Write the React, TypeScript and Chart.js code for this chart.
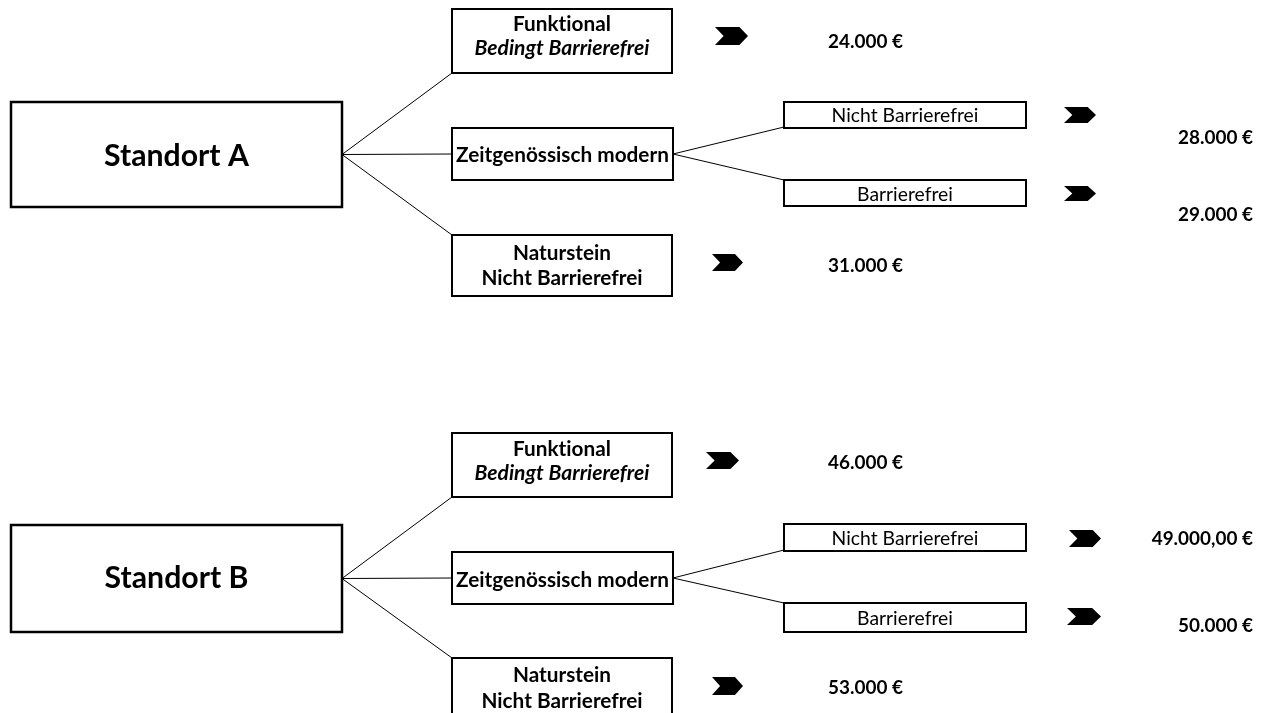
import React, { useEffect, useRef } from "react";
import { Chart, registerables } from "chart.js";

Chart.register(...registerables);

// ---------- data ----------
const STANDORTE = ["Standort A", "Standort B"];
const STIL_TITEL = ["Funktional", "Zeitgenössisch modern", "Naturstein"];
const STIL_ZUSATZ = ["Bedingt Barrierefrei", "", "Nicht Barrierefrei"];
const VARIANTEN = ["Nicht Barrierefrei", "Barrierefrei"];
// order: Funktional, Zeitgenössisch/Nicht Barrierefrei, Zeitgenössisch/Barrierefrei, Naturstein
const PREISE_A = [24000, 28000, 29000, 31000];
const PREISE_B = [46000, 49000, 50000, 53000];
const NACHKOMMA_A = [0, 0, 0, 0];
const NACHKOMMA_B = [0, 2, 0, 0];

// ---------- layout (scale units = page pixels) ----------
type Rect = [number, number, number, number];
interface HalfLayout {
  root: Rect;
  rootBaseline: number;
  stil: Rect[];
  stilBaselines: number[][];
  variant: Rect[];
  variantBaselines: number[];
  chevrons: Rect[]; // Funktional, Nicht, Barr, Naturstein
  priceX: number[];
  priceAlign: CanvasTextAlign[];
  priceBaselines: number[];
}
const HALVES: HalfLayout[] = [
  {
    root: [11, 102, 342, 207],
    rootBaseline: 166,
    stil: [
      [452, 9, 672, 73],
      [452, 128, 673, 180],
      [452, 235, 672, 296],
    ],
    stilBaselines: [[31, 55], [162], [260, 285]],
    variant: [
      [784, 102, 1026, 128],
      [784, 180, 1026, 206],
    ],
    variantBaselines: [122, 201],
    chevrons: [
      [715, 27, 748, 45],
      [1064, 107, 1096, 123],
      [1064, 186, 1096, 201],
      [712, 254, 743, 271],
    ],
    priceX: [828, 1253, 1253, 828],
    priceAlign: ["left", "right", "right", "left"],
    priceBaselines: [48, 144, 221, 272],
  },
  {
    root: [11, 525, 342, 632],
    rootBaseline: 588,
    stil: [
      [452, 433, 672, 497],
      [452, 552, 673, 604],
      [452, 658, 672, 730],
    ],
    stilBaselines: [[456, 480], [587], [682, 708]],
    variant: [
      [784, 524, 1026, 551],
      [784, 603, 1026, 632],
    ],
    variantBaselines: [545, 625],
    chevrons: [
      [706, 452, 739, 469],
      [1069, 530, 1101, 547],
      [1067, 608, 1101, 625],
      [712, 677, 743, 695],
    ],
    priceX: [828, 1253, 1253, 828],
    priceAlign: ["left", "right", "right", "left"],
    priceBaselines: [469, 545, 632, 694],
  },
];

const FONT = "Lato, 'Open Sans', sans-serif";

function formatEuro(v: number, d: number): string {
  const ganz = Math.floor(v).toString().replace(/\B(?=(\d{3})+(?!\d))/g, ".");
  const frac = d > 0 ? "," + (v - Math.floor(v)).toFixed(d).slice(2) : "";
  return ganz + frac + " €";
}

function noLigatures(ctx: CanvasRenderingContext2D) {
  const c: any = ctx;
  try {
    c.textRendering = "optimizeSpeed";
  } catch (e) {}
  try {
    c.letterSpacing = "0.01px";
  } catch (e) {}
}

function fitSize(
  ctx: CanvasRenderingContext2D,
  text: string,
  weight: string,
  style: string,
  target: number
): number {
  noLigatures(ctx);
  ctx.font = `${style} ${weight} 20px ${FONT}`;
  const w = ctx.measureText(text).width;
  return (20 * target) / w;
}

const diagramPlugin = {
  id: "diagram",
  afterDatasetsDraw(chart: any) {
    const ctx: CanvasRenderingContext2D = chart.ctx;
    const xs = chart.scales.x;
    const ys = chart.scales.y;
    const px = (v: number) => xs.getPixelForValue(v);
    const py = (v: number) => ys.getPixelForValue(v);

    ctx.save();
    const sRoot = fitSize(ctx, "Standort A", "bold", "normal", 145);
    const sBold = fitSize(ctx, "Zeitgenössisch modern", "bold", "normal", 213);
    const sItal = fitSize(ctx, "Bedingt Barrierefrei", "bold", "italic", 175);
    const sReg = fitSize(ctx, "Nicht Barrierefrei", "normal", "normal", 147);
    const sPrice = fitSize(ctx, "24.000 €", "bold", "normal", 75);

    const box = (r: Rect, lw: number) => {
      const x0 = px(r[0]), y0 = py(r[1]), x1 = px(r[2]), y1 = py(r[3]);
      ctx.fillStyle = "#ffffff";
      ctx.fillRect(x0, y0, x1 - x0, y1 - y0);
      ctx.strokeStyle = "#000000";
      ctx.lineWidth = lw;
      ctx.strokeRect(x0, y0, x1 - x0, y1 - y0);
    };
    const text = (
      t: string,
      x: number,
      y: number,
      size: number,
      weight: string,
      style: string,
      align: CanvasTextAlign
    ) => {
      noLigatures(ctx);
      ctx.font = `${style} ${weight} ${size}px ${FONT}`;
      ctx.fillStyle = "#000000";
      ctx.textAlign = align;
      ctx.textBaseline = "alphabetic";
      ctx.fillText(t, px(x), py(y));
    };
    const chevron = (r: Rect) => {
      const x0 = px(r[0]), y0 = py(r[1]), x1 = px(r[2]), y1 = py(r[3]);
      const w = x1 - x0, ym = (y0 + y1) / 2;
      ctx.beginPath();
      ctx.moveTo(x0, y0);
      ctx.lineTo(x0 + 0.74 * w, y0);
      ctx.lineTo(x1, ym);
      ctx.lineTo(x0 + 0.74 * w, y1);
      ctx.lineTo(x0, y1);
      ctx.lineTo(x0 + 0.26 * w, ym);
      ctx.closePath();
      ctx.fillStyle = "#000000";
      ctx.fill();
    };

    HALVES.forEach((L, h) => {
      const preise = h === 0 ? PREISE_A : PREISE_B;
      const nk = h === 0 ? NACHKOMMA_A : NACHKOMMA_B;
      box(L.root, 2.5);
      text(STANDORTE[h], (L.root[0] + L.root[2]) / 2, L.rootBaseline, sRoot, "bold", "normal", "center");
      L.stil.forEach((r, i) => {
        box(r, 2);
        const cx = (r[0] + r[2]) / 2;
        text(STIL_TITEL[i], cx, L.stilBaselines[i][0], sBold, "bold", "normal", "center");
        if (STIL_ZUSATZ[i]) {
          const italic = i === 0;
          text(
            STIL_ZUSATZ[i],
            cx,
            L.stilBaselines[i][1],
            italic ? sItal : sBold,
            "bold",
            italic ? "italic" : "normal",
            "center"
          );
        }
      });
      L.variant.forEach((r, i) => {
        box(r, 2);
        text(VARIANTEN[i], (r[0] + r[2]) / 2, L.variantBaselines[i], sReg, "normal", "normal", "center");
      });
      L.chevrons.forEach((r) => chevron(r));
      preise.forEach((p, i) => {
        text(formatEuro(p, nk[i]), L.priceX[i], L.priceBaselines[i], sPrice, "bold", "normal", L.priceAlign[i]);
      });
    });
    ctx.restore();
  },
};

function connectorData() {
  const segs: { x: number; y: number }[][] = [];
  HALVES.forEach((L) => {
    const rx = L.root[2];
    const ry = (L.root[1] + L.root[3]) / 2;
    const f = L.stil[0], z = L.stil[1], n = L.stil[2];
    const zy = (z[1] + z[3]) / 2;
    segs.push([{ x: rx, y: ry }, { x: f[0], y: f[3] }]);
    segs.push([{ x: rx, y: ry }, { x: z[0], y: zy }]);
    segs.push([{ x: rx, y: ry }, { x: n[0], y: n[1] }]);
    segs.push([{ x: z[2], y: zy }, { x: L.variant[0][0], y: L.variant[0][3] - 1 }]);
    segs.push([{ x: z[2], y: zy }, { x: L.variant[1][0], y: L.variant[1][1] }]);
  });
  return segs;
}

export default function App() {
  const ref = useRef<HTMLCanvasElement | null>(null);
  useEffect(() => {
    if (!ref.current) return;
    const chart = new Chart(ref.current, {
      type: "scatter",
      data: {
        datasets: connectorData().map((seg) => ({
          data: seg,
          showLine: true,
          borderColor: "#000000",
          borderWidth: 1,
          pointRadius: 0,
          fill: false,
        })),
      },
      options: {
        responsive: false,
        animation: false,
        devicePixelRatio: 1,
        layout: { padding: 0 },
        plugins: { legend: { display: false }, tooltip: { enabled: false } },
        scales: {
          x: { type: "linear", min: 0, max: 1266, display: false },
          y: { type: "linear", min: 0, max: 713, reverse: true, display: false },
        },
      },
      plugins: [diagramPlugin],
    } as any);
    return () => chart.destroy();
  }, []);
  return (
    <div style={{ position: "fixed", left: 0, top: 0, width: 1266, height: 713, background: "#fff" }}>
      <canvas ref={ref} width={1266} height={713} style={{ display: "block" }} />
    </div>
  );
}
